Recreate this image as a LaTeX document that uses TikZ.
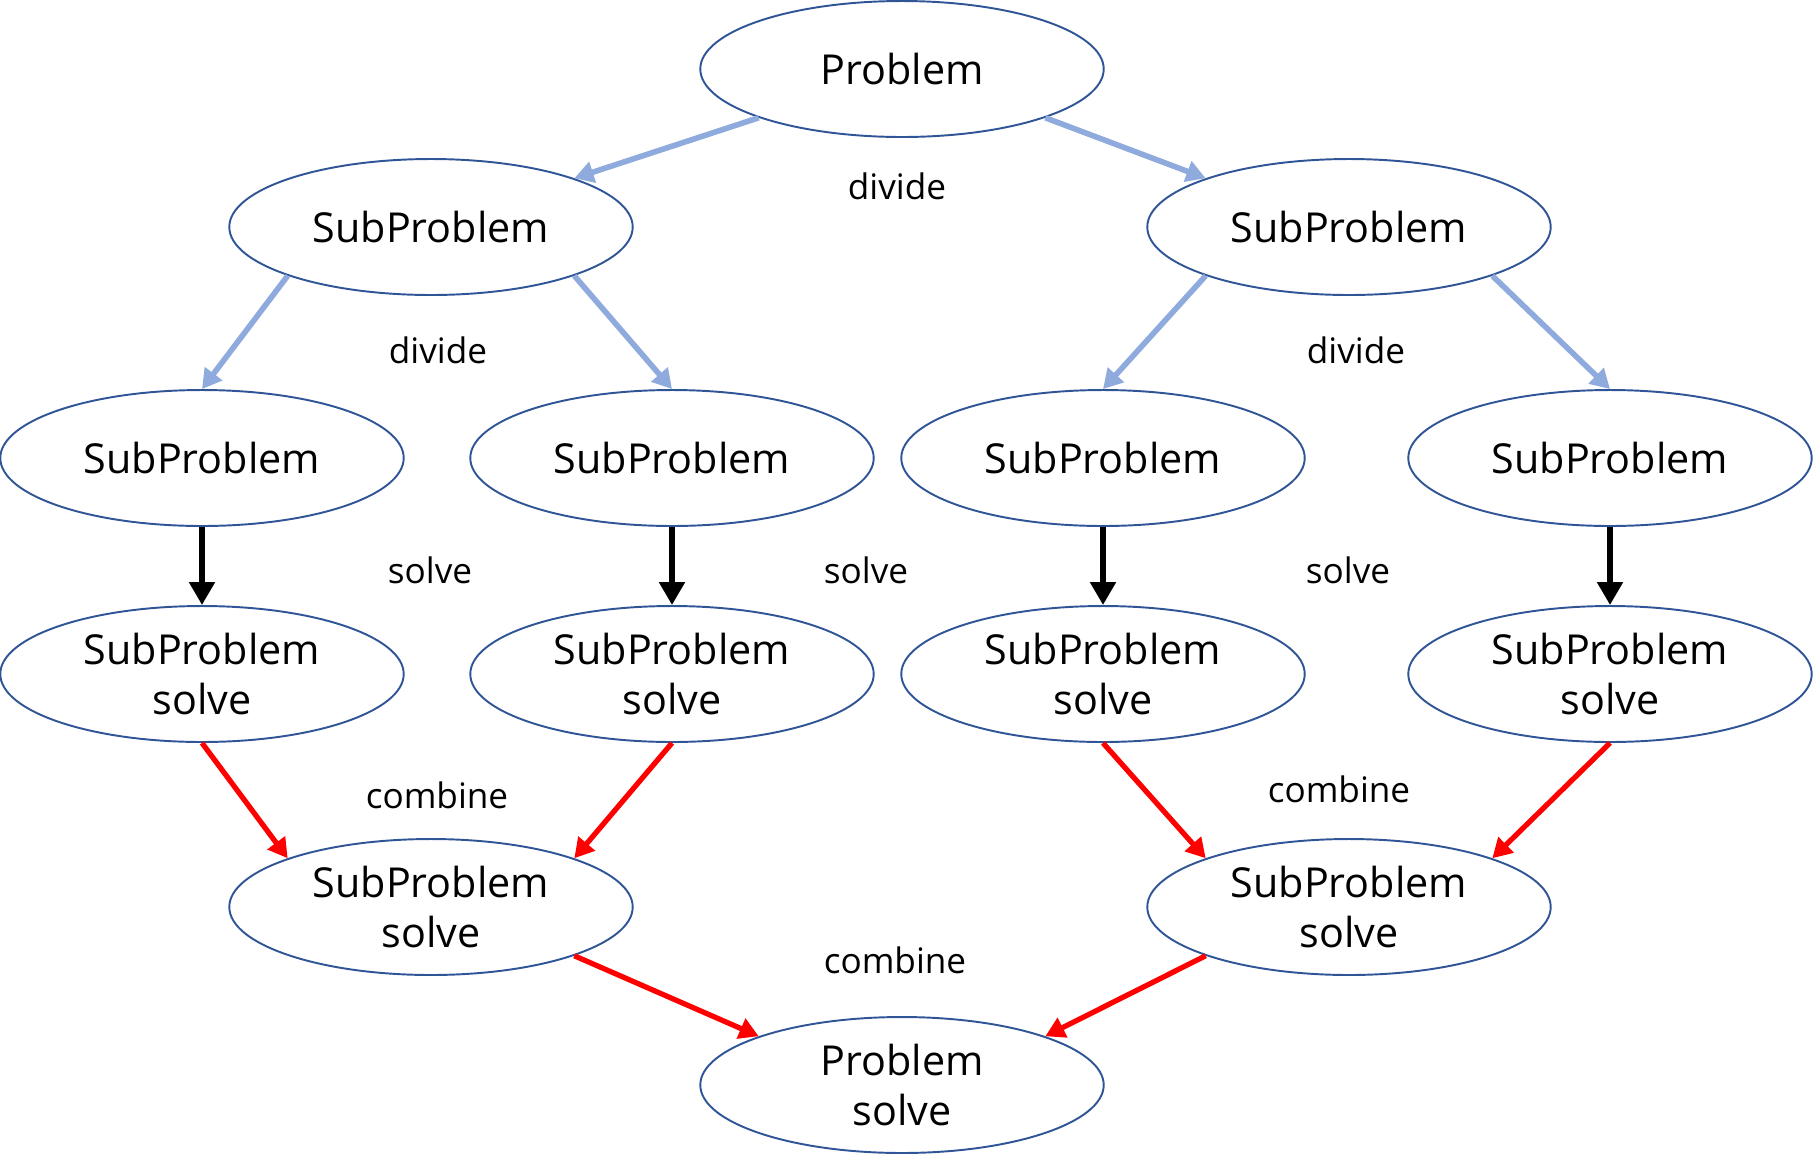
\documentclass[tikz,border=0pt]{standalone}
\usepackage{fontspec}
\setmainfont{Open Sans}
\usetikzlibrary{shapes.geometric,arrows.meta}
\definecolor{ellcol}{HTML}{2F5597}
\definecolor{divcol}{HTML}{8FAADC}
\definecolor{combcol}{HTML}{FF0000}
\tikzset{
  bub/.style={ellipse, draw=ellcol, line width=1.1pt, minimum width=8.07cm, minimum height=2.72cm, inner sep=0pt, align=center, font=\fontsize{23.5}{28.4}\selectfont},
  lbl/.style={font=\fontsize{20}{24}\selectfont, inner sep=0pt},
  divarrow/.style={draw=divcol, line width=3.2pt, -{Triangle[length=11pt,width=12pt]}},
  solvearrow/.style={draw=black, line width=3.6pt, -{Triangle[length=13pt,width=14pt]}},
  combarrow/.style={draw=combcol, line width=3pt, -{Triangle[length=11pt,width=12pt]}}
}
\begin{document}
\begin{tikzpicture}[x=0.02cm,y=-0.02cm]
\useasboundingbox (0,0) rectangle (1813,1161);
% nodes
\node[bub] (p) at (902,69) {Problem};
\node[bub] (l1) at (431,227) {SubProblem};
\node[bub] (r1) at (1349,227) {SubProblem};
\node[bub] (a2) at (202,458) {SubProblem};
\node[bub] (b2) at (672,458) {SubProblem};
\node[bub] (c2) at (1103,458) {SubProblem};
\node[bub] (d2) at (1610,458) {SubProblem};
\node[bub] (a3) at (202,674) {SubProblem\\solve};
\node[bub] (b3) at (672,674) {SubProblem\\solve};
\node[bub] (c3) at (1103,674) {SubProblem\\solve};
\node[bub] (d3) at (1610,674) {SubProblem\\solve};
\node[bub] (l4) at (431,907) {SubProblem\\solve};
\node[bub] (r4) at (1349,907) {SubProblem\\solve};
\node[bub] (ps) at (902,1085) {Problem\\solve};
% labels
\node[lbl] (t1) at (897,186) {divide};
\node[lbl] (t2) at (438,350) {divide};
\node[lbl] (t3) at (1356,350) {divide};
\node[lbl] (t4) at (430,570) {solve};
\node[lbl] (t5) at (866,570) {solve};
\node[lbl] (t6) at (1348,570) {solve};
\node[lbl] (t7) at (437,795) {combine};
\node[lbl] (t8) at (1339,789) {combine};
\node[lbl] (t9) at (895,960) {combine};
% divide
\draw[divarrow] (p.south west) -- (l1.north east);
\draw[divarrow] (p.south east) -- (r1.north west);
\draw[divarrow] (l1.south west) -- (a2.north);
\draw[divarrow] (l1.south east) -- (b2.north);
\draw[divarrow] (r1.south west) -- (c2.north);
\draw[divarrow] (r1.south east) -- (d2.north);
% solve
\draw[solvearrow] (a2.south) -- (a3.north);
\draw[solvearrow] (b2.south) -- (b3.north);
\draw[solvearrow] (c2.south) -- (c3.north);
\draw[solvearrow] (d2.south) -- (d3.north);
% combine
\draw[combarrow] (a3.south) -- (l4.north west);
\draw[combarrow] (b3.south) -- (l4.north east);
\draw[combarrow] (c3.south) -- (r4.north west);
\draw[combarrow] (d3.south) -- (r4.north east);
\draw[combarrow] (l4.south east) -- (ps.north west);
\draw[combarrow] (r4.south west) -- (ps.north east);
\end{tikzpicture}
\end{document}
